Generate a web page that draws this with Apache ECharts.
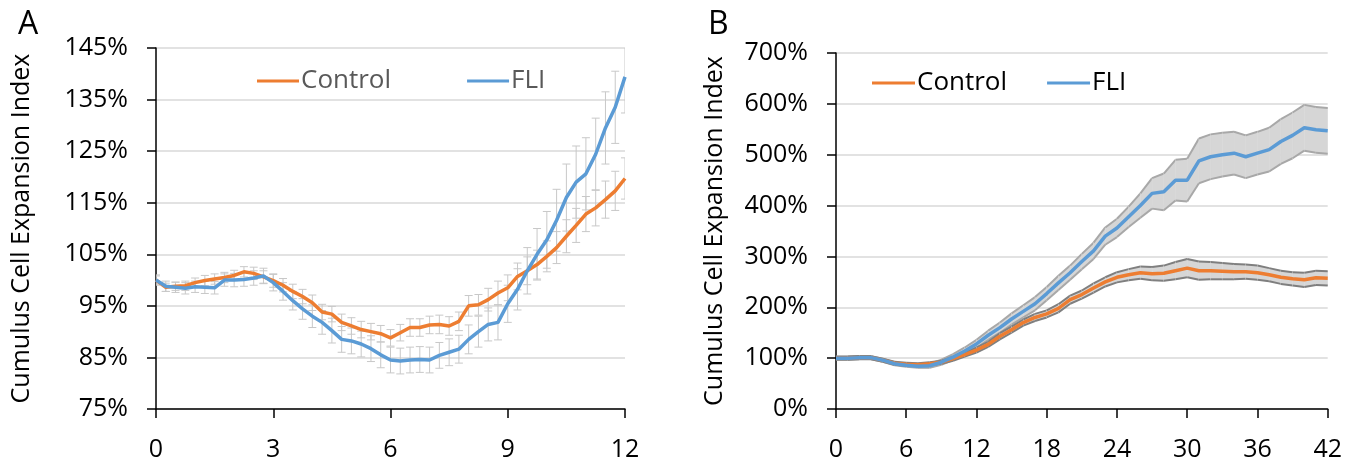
<!DOCTYPE html>
<html>
<head>
<meta charset="utf-8">
<script src="https://cdn.jsdelivr.net/npm/echarts@6/dist/echarts.min.js"></script>
<style>
  html, body { margin: 0; padding: 0; background: #fff; }
  #main { width: 1345px; height: 462px; }
</style>
</head>
<body>
<div id="main"></div>
<script>
// panel A: hours 0-12, 15 min steps
var tA = [0, 0.25, 0.5, 0.75, 1, 1.25, 1.5, 1.75, 2, 2.25, 2.5, 2.75, 3, 3.25, 3.5, 3.75,
  4, 4.25, 4.5, 4.75, 5, 5.25, 5.5, 5.75, 6, 6.25, 6.5, 6.75, 7, 7.25, 7.5, 7.75,
  8, 8.25, 8.5, 8.75, 9, 9.25, 9.5, 9.75, 10, 10.25, 10.5, 10.75, 11, 11.25, 11.5, 11.75, 12];
var controlA = [100.0, 98.6, 98.8, 98.9, 99.5, 99.9, 100.2, 100.5, 100.9, 101.6, 101.3, 100.6,
  99.9, 99.0, 97.8, 96.8, 95.6, 93.8, 93.4, 91.8, 91.1, 90.4, 90.0, 89.6,
  88.8, 89.8, 90.8, 90.8, 91.3, 91.4, 91.1, 92.0, 95.0, 95.2, 96.2, 97.5,
  98.5, 100.7, 101.8, 103.0, 104.6, 106.3, 108.5, 110.6, 112.8, 114.0, 115.6, 117.3, 119.7];
var fliA = [100.0, 98.8, 98.6, 98.4, 98.7, 98.6, 98.5, 100.0, 100.0, 100.1, 100.4, 100.8,
  99.5, 97.8, 96.0, 94.4, 93.0, 91.8, 90.2, 88.5, 88.2, 87.6, 86.7, 85.5,
  84.5, 84.3, 84.5, 84.6, 84.5, 85.4, 86.0, 86.6, 88.5, 90.0, 91.4, 91.8,
  95.4, 98.2, 101.8, 105.0, 107.8, 111.6, 116.0, 119.0, 120.6, 124.4, 129.5, 133.5, 139.4];
var controlErrA = [0.8, 0.8, 0.8, 0.9, 0.9, 1.0, 1.0, 1.0, 1.0, 1.0, 1.2, 1.2,
  1.3, 1.3, 1.4, 1.4, 1.5, 1.5, 1.5, 1.6, 1.6, 1.6, 1.6, 1.6,
  1.6, 1.6, 1.7, 1.7, 1.7, 1.8, 1.8, 1.8, 2.0, 2.0, 2.2, 2.3,
  2.5, 2.6, 2.7, 2.8, 3.0, 3.1, 3.2, 3.3, 3.4, 3.5, 3.6, 3.8, 4.0];
var fliErrA = [1.0, 1.0, 1.0, 1.1, 1.1, 1.2, 1.2, 1.2, 1.3, 1.3, 1.4, 1.5,
  1.6, 1.7, 1.8, 2.0, 2.2, 2.3, 2.4, 2.5, 2.5, 2.5, 2.5, 2.5,
  2.5, 2.5, 2.5, 2.5, 2.5, 2.5, 2.6, 2.7, 2.8, 3.0, 3.2, 3.4,
  3.6, 4.0, 4.5, 5.0, 5.5, 6.0, 6.5, 7.0, 7.0, 7.0, 7.0, 7.0, 7.0];

// panel B: hours 0-42, 1 h steps
var tB = [0, 1, 2, 3, 4, 5, 6, 7, 8, 9, 10, 11, 12, 13, 14, 15, 16, 17, 18, 19, 20, 21,
  22, 23, 24, 25, 26, 27, 28, 29, 30, 31, 32, 33, 34, 35, 36, 37, 38, 39, 40, 41, 42];
var controlB = [100, 100, 101, 101, 96, 90, 88, 87, 89, 92, 99, 107, 116, 127, 143, 156, 170, 180,
  187, 198, 215, 225, 238, 250, 259, 264, 268, 266, 267, 272, 277, 272, 272, 271, 270, 270,
  268, 264, 259, 256, 254, 258, 257];
var fliB = [100, 100, 101, 101, 96, 89, 86, 84, 85, 92, 102, 114, 128, 145, 160, 177, 192, 207,
  227, 248, 268, 290, 311, 340, 356, 378, 400, 424, 427, 450, 450, 488, 496, 500, 503, 496,
  503, 510, 526, 538, 553, 549, 547];
var controlErrB = [3, 3, 3, 3, 3, 3, 3, 3, 3, 3, 4, 4, 5, 5, 6, 6, 6, 7, 7, 8, 8, 8,
  9, 9, 10, 11, 12, 13, 15, 17, 18, 18, 17, 16, 15, 14, 14, 13, 13, 13, 14, 14, 14];
var fliErrB = [3, 3, 3, 3, 3, 3, 3, 3, 4, 5, 6, 7, 8, 9, 10, 11, 12, 13, 13, 14, 14, 15,
  16, 17, 18, 20, 24, 30, 36, 40, 42, 44, 44, 43, 42, 42, 42, 43, 44, 45, 45, 45, 45];

var yTicksA = [75, 145, 10];
var yTicksB = [0, 700, 100];

var ORANGE = '#ED7D31', BLUE = '#5B9BD5';
var FONT = 'Open Sans';

function pairs(t, v) {
  return t.map(function (x, i) { return [x, v[i]]; });
}
function triples(t, v, e) {
  return t.map(function (x, i) { return [x, v[i], e[i]]; });
}

// whisker error bars (panel A)
function errBars(params, api) {
  var x = api.value(0), m = api.value(1), e = api.value(2);
  var hi = api.coord([x, m + e]), lo = api.coord([x, m - e]);
  var w = 4, st = { stroke: '#c8c8c8', lineWidth: 1 };
  return {
    type: 'group',
    children: [
      { type: 'line', shape: { x1: hi[0], y1: hi[1], x2: lo[0], y2: lo[1] }, style: st },
      { type: 'line', shape: { x1: hi[0] - w, y1: hi[1], x2: hi[0] + w, y2: hi[1] }, style: st },
      { type: 'line', shape: { x1: lo[0] - w, y1: lo[1], x2: lo[0] + w, y2: lo[1] }, style: st }
    ]
  };
}

// dense error envelope (panel B)
function band(t, v, e, edge) {
  return function (params, api) {
    var i = params.dataIndex;
    if (i >= t.length - 1) return null;
    var a1 = api.coord([t[i], v[i] + e[i]]), a2 = api.coord([t[i + 1], v[i + 1] + e[i + 1]]);
    var b1 = api.coord([t[i], v[i] - e[i]]), b2 = api.coord([t[i + 1], v[i + 1] - e[i + 1]]);
    return {
      type: 'group',
      children: [
        { type: 'polygon', shape: { points: [a1, a2, b2, b1] }, style: { fill: '#d6d6d6', stroke: '#d6d6d6', lineWidth: 0.5 } },
        { type: 'line', shape: { x1: a1[0], y1: a1[1], x2: a2[0], y2: a2[1] }, style: { stroke: edge, lineWidth: 2 } },
        { type: 'line', shape: { x1: b1[0], y1: b1[1], x2: b2[0], y2: b2[1] }, style: { stroke: edge, lineWidth: 2 } }
      ]
    };
  };
}

function xAxis(idx, max, interval) {
  return {
    type: 'value', gridIndex: idx, min: 0, max: max, interval: interval,
    axisLine: { onZero: false, lineStyle: { color: '#000', width: 1.5 } },
    axisTick: { length: 9, lineStyle: { color: '#000', width: 1.5 } },
    axisLabel: { color: '#000', fontSize: 25, fontFamily: FONT, margin: 28 },
    splitLine: { show: false }
  };
}
function yAxis(idx, ticks, gap) {
  return {
    type: 'value', gridIndex: idx, min: ticks[0], max: ticks[1], interval: ticks[2],
    name: 'Cumulus Cell Expansion Index', nameLocation: 'middle', nameGap: gap,
    nameTextStyle: { color: '#000', fontSize: 25, fontFamily: FONT },
    axisLine: { show: true, lineStyle: { color: '#000', width: 1.5 } },
    axisTick: { show: true, length: 9, lineStyle: { color: '#000', width: 1.5 } },
    axisLabel: { color: '#000', fontSize: 25, fontFamily: FONT, margin: 28, formatter: '{value}%' },
    splitLine: { lineStyle: { color: '#d9d9d9', width: 1.5 } }
  };
}
function line(name, idx, t, v, color) {
  return {
    name: name, type: 'line', xAxisIndex: idx, yAxisIndex: idx, data: pairs(t, v),
    showSymbol: false, symbol: 'none', color: color, lineStyle: { width: 3.5, color: color }, z: 5
  };
}

var option = {
  animation: false,
  title: [
    { text: 'A', left: 13, top: 4, textStyle: { fontSize: 32, fontWeight: 'normal', fontFamily: FONT, color: '#000' } },
    { text: 'B', left: 703, top: 4, textStyle: { fontSize: 32, fontWeight: 'normal', fontFamily: FONT, color: '#000' } }
  ],
  grid: [
    { left: 156, top: 48, width: 469, height: 361 },
    { left: 836, top: 53, width: 492, height: 360 }
  ],
  legend: [
    { left: 257, top: 68, padding: 0, data: ['Control', 'FLI'], icon: 'rect', itemWidth: 42, itemHeight: 3, itemGap: 76,
      textStyle: { color: '#595959', fontSize: 26, fontFamily: FONT, padding: [0, 0, 0, -3] } },
    { left: 872, top: 70, padding: 0, data: ['Control', 'FLI'], icon: 'rect', itemWidth: 43, itemHeight: 3, itemGap: 40,
      textStyle: { color: '#000', fontSize: 26, fontFamily: FONT, padding: [0, 0, 0, -3] } }
  ],
  xAxis: [xAxis(0, 12, 3), xAxis(1, 42, 6)],
  yAxis: [yAxis(0, yTicksA, 122), yAxis(1, yTicksB, 109)],
  series: [
    { name: 'Control SE A', type: 'custom', xAxisIndex: 0, yAxisIndex: 0, renderItem: errBars,
      data: triples(tA, controlA, controlErrA), encode: { x: 0, y: 1 }, clip: true, z: 2 },
    { name: 'FLI SE A', type: 'custom', xAxisIndex: 0, yAxisIndex: 0, renderItem: errBars,
      data: triples(tA, fliA, fliErrA), encode: { x: 0, y: 1 }, clip: true, z: 2 },
    line('Control', 0, tA, controlA, ORANGE),
    line('FLI', 0, tA, fliA, BLUE),
    { name: 'FLI SE B', type: 'custom', xAxisIndex: 1, yAxisIndex: 1, renderItem: band(tB, fliB, fliErrB, '#a8a8a8'),
      data: triples(tB, fliB, fliErrB), encode: { x: 0, y: 1 }, clip: true, z: 2 },
    { name: 'Control SE B', type: 'custom', xAxisIndex: 1, yAxisIndex: 1, renderItem: band(tB, controlB, controlErrB, '#7f7f7f'),
      data: triples(tB, controlB, controlErrB), encode: { x: 0, y: 1 }, clip: true, z: 2 },
    line('Control', 1, tB, controlB, ORANGE),
    line('FLI', 1, tB, fliB, BLUE)
  ]
};

var myChart = echarts.init(document.getElementById('main'));
myChart.setOption(option);
</script>
</body>
</html>
